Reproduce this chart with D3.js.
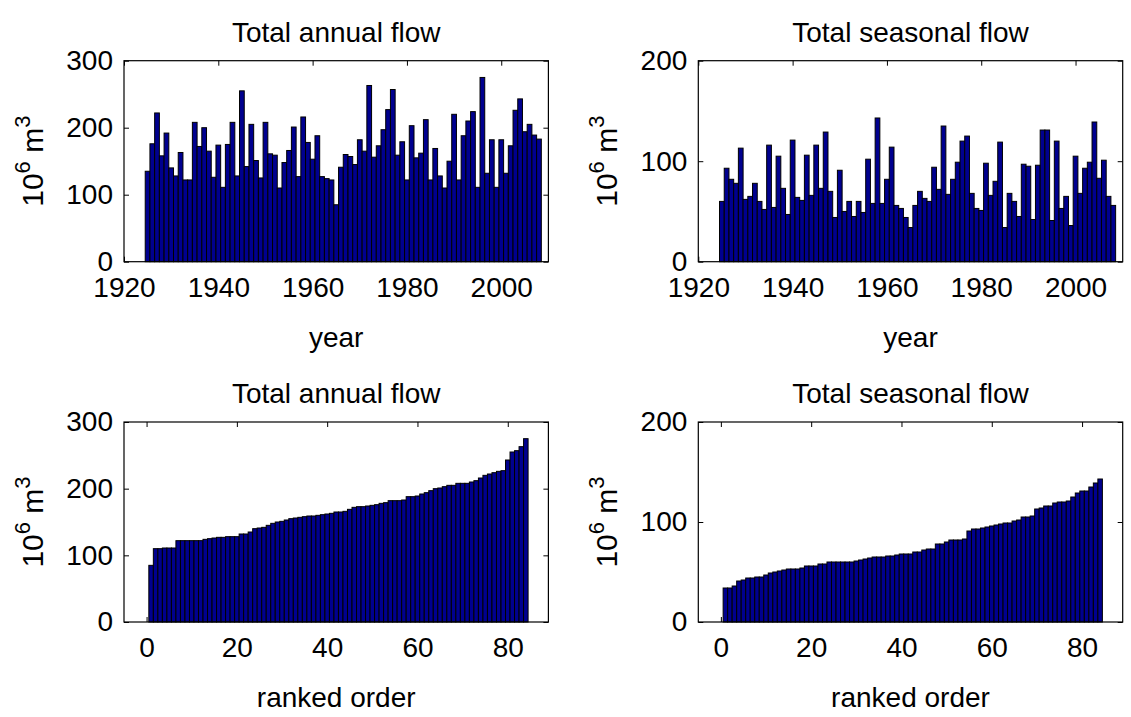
<!DOCTYPE html>
<html><head><meta charset="utf-8">
<script src="https://cdn.jsdelivr.net/npm/d3@7"></script>
<style>
body{margin:0;background:#fff}
svg text{font-family:"Liberation Sans",Arial,Helvetica,sans-serif;fill:#000}
</style>
</head><body>
<svg id="c" width="1131" height="717"></svg>
<script>
// ---- data ----
const years = d3.range(1925, 2009);
const annualFlow = [
  135,176,222,158,192,140,128,163,122,122,208,172,200,165,126,174,111,175,208,128,255,142,205,151,125,
  208,161,159,110,148,166,201,127,216,178,153,188,127,124,122,85,141,160,157,145,182,165,263,156,173,197,227,257,159,179,122,
  203,155,162,212,122,169,128,110,150,220,122,188,210,224,111,275,132,182,111,182,132,173,226,243,194,205,189,183
];
const seasonalFlow = [
  60,93,82,78,113,62,65,78,60,52,116,54,105,73,47,121,64,61,106,66,116,73,129,70,44,
  91,50,60,45,60,49,102,58,143,58,82,114,56,53,44,34,56,70,63,60,94,72,135,67,82,99,120,125,68,53,51,
  98,66,80,119,34,68,60,45,97,95,42,96,131,131,41,120,53,65,36,105,68,93,99,139,83,101,65,56
];
const ranks = d3.range(1, years.length + 1);
const rankedAnnual = annualFlow.slice().sort(d3.ascending);
const rankedSeasonal = seasonalFlow.slice().sort(d3.ascending);

const yearTicks = [1920, 1940, 1960, 1980, 2000];
const rankTicks = [0, 20, 40, 60, 80];
const annualTicks = [0, 100, 200, 300];
const seasonalTicks = [0, 100, 200];
const titles = ["Total annual flow", "Total seasonal flow", "Total annual flow", "Total seasonal flow"];
const xLabels = ["year", "year", "ranked order", "ranked order"];

// ---- layout ----
const FS = 28;
const BAR = "#00008f";
const panels = [
  {cats: years, vals: annualFlow,   xd: [1920, 2010], xt: yearTicks, yd: [0, 300], yt: annualTicks,   x0: 124,   x1: 548.4,  y0: 60.7,  y1: 261.7},
  {cats: years, vals: seasonalFlow, xd: [1920, 2010], xt: yearTicks, yd: [0, 200], yt: seasonalTicks, x0: 698.3, x1: 1122.7, y0: 60.7,  y1: 261.7},
  {cats: ranks, vals: rankedAnnual,   xd: [-5, 89], xt: rankTicks, yd: [0, 300], yt: annualTicks,   x0: 124,   x1: 548.4,  y0: 422, y1: 622},
  {cats: ranks, vals: rankedSeasonal, xd: [-5, 89], xt: rankTicks, yd: [0, 200], yt: seasonalTicks, x0: 698.3, x1: 1122.7, y0: 422, y1: 622}
];

const svg = d3.select("#c");
svg.append("rect").attr("width", 1131).attr("height", 717).attr("fill", "#fff");

panels.forEach((p, i) => {
  const x = d3.scaleLinear().domain(p.xd).range([p.x0, p.x1]);
  const y = d3.scaleLinear().domain(p.yd).range([p.y1, p.y0]);
  const g = svg.append("g");

  const tk = 5;
  const styleAxis = a => {
    a.select(".domain").remove();
    a.selectAll("line").attr("stroke", "#000").attr("stroke-width", 1);
    a.attr("font-family", null).attr("font-size", null);
    a.selectAll("text").attr("font-size", FS);
  };
  const xb = g.append("g").attr("transform", `translate(0,${p.y1})`)
    .call(d3.axisBottom(x).tickValues(p.xt).tickFormat(d3.format("d")).tickSize(-tk).tickPadding(15));
  styleAxis(xb);
  const xt = g.append("g").attr("transform", `translate(0,${p.y0})`)
    .call(d3.axisTop(x).tickValues(p.xt).tickFormat("").tickSize(-tk));
  styleAxis(xt);
  const yl = g.append("g").attr("transform", `translate(${p.x0},0)`)
    .call(d3.axisLeft(y).tickValues(p.yt).tickFormat(d3.format("d")).tickSize(-tk).tickPadding(11));
  styleAxis(yl);
  const yr = g.append("g").attr("transform", `translate(${p.x1},0)`)
    .call(d3.axisRight(y).tickValues(p.yt).tickFormat("").tickSize(-tk));
  styleAxis(yr);

  // bars
  g.append("g").selectAll("rect").data(p.vals).join("rect")
    .attr("x", (d, j) => x(p.cats[j] - 0.5))
    .attr("width", (d, j) => x(p.cats[j] + 0.5) - x(p.cats[j] - 0.5))
    .attr("y", d => y(d))
    .attr("height", d => y(0) - y(d))
    .attr("fill", BAR).attr("stroke", "#000").attr("stroke-width", 1);

  // box
  g.append("rect").attr("x", p.x0).attr("y", p.y0)
    .attr("width", p.x1 - p.x0).attr("height", p.y1 - p.y0)
    .attr("fill", "none").attr("stroke", "#000").attr("stroke-width", 1.2);

  const cx = (p.x0 + p.x1) / 2;
  g.append("text").attr("x", cx).attr("y", p.y0 - 19).attr("text-anchor", "middle")
    .attr("font-size", FS).text(titles[i]);
  g.append("text").attr("x", cx).attr("y", p.y1 + 85).attr("text-anchor", "middle")
    .attr("font-size", FS).text(xLabels[i]);
  const cy = (p.y0 + p.y1) / 2;
  const ylab = g.append("text").attr("transform", `translate(${p.x0 - 81},${cy}) rotate(-90)`)
    .attr("text-anchor", "middle").attr("font-size", 30);
  ylab.append("tspan").text("10");
  ylab.append("tspan").attr("dy", -13).attr("font-size", 22).text("6");
  ylab.append("tspan").attr("dy", 13).text(" m");
  ylab.append("tspan").attr("dy", -13).attr("font-size", 22).text("3");
});
</script>
</body></html>
